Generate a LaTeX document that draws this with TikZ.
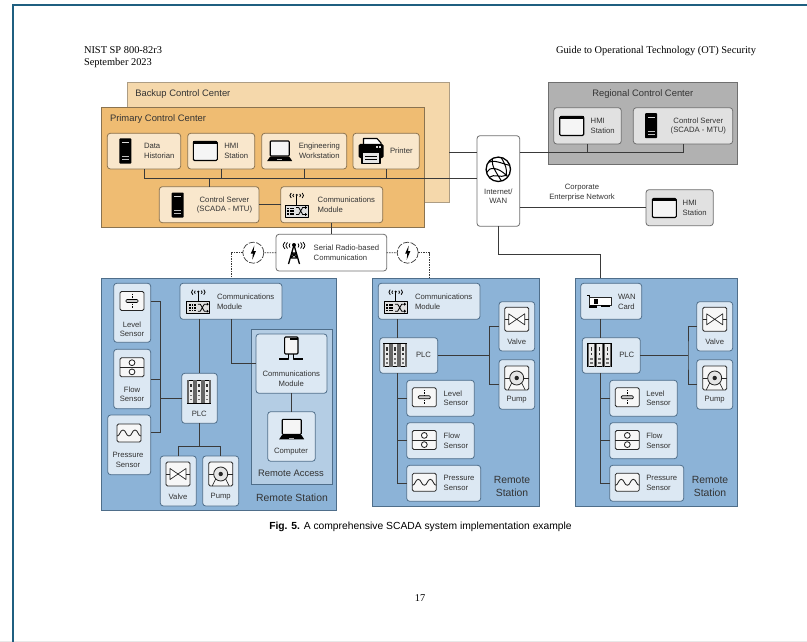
\documentclass[tikz,border=0pt]{standalone}
\usepackage{fontspec}
\setmainfont{Liberation Sans}
\newfontfamily\serifhead{Liberation Serif}
\definecolor{backupc}{HTML}{F5D8AB}
\definecolor{primaryc}{HTML}{EFBC72}
\definecolor{orboxc}{HTML}{F9E7CC}
\definecolor{orline}{HTML}{8A7350}
\definecolor{greyp}{HTML}{B1B1B1}
\definecolor{greyb}{HTML}{E1E1E1}
\definecolor{greyl}{HTML}{6F6F6F}
\definecolor{bluep}{HTML}{8CB3D7}
\definecolor{blueb}{HTML}{DCE8F3}
\definecolor{bluea}{HTML}{B4CDE4}
\definecolor{bluel}{HTML}{4F6E8A}
\definecolor{txt}{HTML}{333333}
\definecolor{linec}{HTML}{3A3A3A}
\definecolor{framec}{HTML}{1F5F80}
\tikzset{
  panel/.style={draw,rectangle,outer sep=0pt,inner sep=0pt,line width=.8pt},
  pbackup/.style={panel,fill=backupc,draw=orline!70},
  pprimary/.style={panel,fill=primaryc,draw=orline},
  pregional/.style={panel,fill=greyp,draw=greyl},
  pstation/.style={panel,fill=bluep,draw=bluel},
  paccess/.style={panel,fill=bluea,draw=bluel},
  dev/.style={draw,rectangle,rounded corners=3pt,outer sep=0pt,inner sep=0pt,line width=.8pt},
  orbox/.style={dev,fill=orboxc,draw=orline},
  grbox/.style={dev,fill=greyb,draw=greyl},
  blbox/.style={dev,fill=blueb,draw=bluel},
  whbox/.style={dev,fill=white,draw=greyl},
  lbl/.style={inner sep=0pt,outer sep=0pt,text=txt,font=\fontsize{7.7}{9.8}\selectfont},
  lleft/.style={lbl,anchor=west,align=left},
  lmid/.style={lbl,anchor=center,align=center},
  ttl/.style={inner sep=0pt,outer sep=0pt,text=txt,font=\fontsize{9.4}{12.5}\selectfont},
  ttlbig/.style={inner sep=0pt,outer sep=0pt,text=txt,align=center,font=\fontsize{10.4}{12.7}\selectfont},
  conn/.style={draw=linec,line width=1pt},
  radio/.style={draw=linec,line width=.7pt,dash pattern=on 1.5pt off 1pt},
  boltc/.style={circle,draw=linec,line width=.7pt,dash pattern=on 6pt off 1.5pt,fill=white,minimum size=21pt,inner sep=0pt,outer sep=0pt},
  ic/.style={draw=black,line width=1.1pt,line join=round},
  icb/.style={draw=black!85,line width=.85pt,line join=round},
  icthin/.style={draw=black,line width=.7pt},
  head/.style={inner sep=0pt,outer sep=0pt,text=black,font=\serifhead\fontsize{10.4}{12.6}\selectfont},
}
\newcommand\bx[6]{\node[#6,minimum width={(#4)-(#2)},minimum height={(#5)-(#3)}] (#1) at ({((#2)+(#4))/2},{((#3)+(#5))/2}) {};}
\newcommand\icServer[2]{\begin{scope}[shift={(#1,#2)}]
 \fill[black,rounded corners=.8pt] (-6,-12.5) rectangle (6,12.5);
 \fill[white!85!black] (-3.5,-9) rectangle (3.5,-8);
 \fill[white!75!black] (-3.5,5) rectangle (3.5,6.3);
 \fill[white!75!black] (-3.5,8) rectangle (3.5,9.3);
\end{scope}}
\newcommand\icWindow[2]{\begin{scope}[shift={(#1,#2)}]
 \draw[ic,fill=white!96!black,rounded corners=1.2pt] (-12,-9.5) rectangle (12,9.5);
 \fill[black] (-12,-9.5) rectangle (12,-7);
\end{scope}}
\newcommand\icLaptop[2]{\begin{scope}[shift={(#1,#2)}]
 \draw[ic,fill=white!96!black,rounded corners=.8pt] (-9.5,-10) rectangle (9.5,5);
 \fill[black] (-9.5,5.5) -- (9.5,5.5) -- (12.5,10) -- (-12.5,10) -- cycle;
 \fill[white!70!black] (-2.5,8.2) rectangle (2.5,9.2);
\end{scope}}
\newcommand\icPrinter[2]{\begin{scope}[shift={(#1,#2)}]
 \draw[ic,fill=white] (-7.5,-1) -- (-7.5,-12.5) -- (6,-12.5) -- (10,-8) -- (10,-1);
 \fill[black,rounded corners=1.5pt] (-12.5,-7) rectangle (12.5,7);
 \fill[white!85!black] (5,-4.5) rectangle (7,-3); \fill[white!85!black] (8.3,-4.5) rectangle (10,-3);
 \draw[ic,fill=white!90!black] (-9,1.5) rectangle (9,12.5);
 \draw[icthin] (-6,5) -- (6,5) (-6,8) -- (6,8);
\end{scope}}
\newcommand\waves{
 \draw[icthin,line width=.8pt] (-3,-11) .. controls (-4.2,-9.5) .. (-3,-8) (3,-11) .. controls (4.2,-9.5) .. (3,-8)
   (-5.5,-12) .. controls (-7.2,-9.5) .. (-5.5,-7) (5.5,-12) .. controls (7.2,-9.5) .. (5.5,-7);
 \fill[black] (0,-10) circle (1.2);
}
\newcommand\icComm[2]{\begin{scope}[shift={(#1,#2)}]
 \waves
 \draw[ic,line width=.9pt] (0,-9.5) -- (0,-.5);
 \draw[ic,line width=.9pt,fill=white!88!black] (-11.5,0) rectangle (11.5,12);
 \foreach \a in {-9.3,-6.8,-4.3}{\foreach \b in {2.5,5.2,8}{\fill[black] (\a,\b) rectangle +(1.6,1.6);}}
 \draw[icthin,line width=.8pt] (-.5,2.5) -- (2,2.5) -- (6,9.5) -- (9,9.5) (-.5,9.5) -- (2,9.5) -- (6,2.5) -- (9,2.5);
 \fill[black] (8.5,1) -- (10.5,2.5) -- (8.5,4) -- cycle (8.5,8) -- (10.5,9.5) -- (8.5,11) -- cycle;
\end{scope}}
\newcommand\icTower[2]{\begin{scope}[shift={(#1,#2)}]
 \draw[icthin,line width=.8pt] (-4,-9.5) .. controls (-5.2,-7.5) .. (-4,-5.5) (4,-9.5) .. controls (5.2,-7.5) .. (4,-5.5)
   (-6.5,-10.5) .. controls (-8.5,-7.5) .. (-6.5,-4.5) (6.5,-10.5) .. controls (8.5,-7.5) .. (6.5,-4.5)
   (-9,-11) .. controls (-11.5,-7.5) .. (-9,-4) (9,-11) .. controls (11.5,-7.5) .. (9,-4);
 \fill[black] (0,-8) circle (2);
 \draw[ic,line width=1.3pt] (0,-8) -- (-5.5,11) (0,-8) -- (5.5,11) (-2.8,0) -- (2.8,0) (-4,5) -- (4,5) (-2.8,0) -- (4,5) (2.8,0) -- (-4,5);
\end{scope}}
\newcommand\icGlobe[2]{\begin{scope}[shift={(#1,#2)}]
 \draw[ic,line width=1.3pt,fill=white] (0,0) circle (12.2);
 \draw[ic,line width=1pt] (-10,-7) .. controls (-5,-10) and (3,-6) .. (11,-4)
   (-11.5,3) .. controls (-9,-3) and (0,-2) .. (8,6)
   (-6,-10.5) .. controls (-7,-3) and (-2,3) .. (3,11.5)
   (3,-11.5) .. controls (7,-5) and (9,0) .. (8,6)
   (-9,8) .. controls (-4,4) and (2,9) .. (8,6);
 \fill[black] (8,6) circle (1.3);
\end{scope}}
\newcommand\icLevel[2]{\begin{scope}[shift={(#1,#2)}]
 \draw[icb,fill=white!97!black,rounded corners=1.5pt] (-12,-9.5) rectangle (12,9.5);
 \draw[icthin,dash pattern=on 1.5pt off 1pt] (0,-7.5) -- (0,7.5);
 \draw[icthin,fill=white!80!black,rounded corners=1pt] (-6,-1.5) rectangle (6,1.5);
\end{scope}}
\newcommand\icFlow[2]{\begin{scope}[shift={(#1,#2)}]
 \draw[icb,fill=white!97!black,rounded corners=1.5pt] (-12,-9.5) rectangle (12,9.5);
 \draw[icb] (-12,0) -- (12,0);
 \draw[icb,fill=white] (0,-4.6) circle (2.9) (0,4.6) circle (2.9);
\end{scope}}
\newcommand\icPress[2]{\begin{scope}[shift={(#1,#2)}]
 \draw[icb,fill=white!97!black,rounded corners=1.5pt] (-12,-9) rectangle (12,9);
 \draw[icb] (-12,3) .. controls (-9,3) and (-9,-3) .. (-6,-3) .. controls (-3,-3) and (-3,3) .. (0,3) .. controls (3,3) and (3,-3) .. (6,-3) .. controls (9,-3) and (9,3) .. (12,3);
\end{scope}}
\newcommand\icValve[2]{\begin{scope}[shift={(#1,#2)}]
 \draw[icb,fill=white!97!black,rounded corners=1.5pt] (-12,-12) rectangle (12,12);
 \draw[icb,line width=.7pt,fill=white] (-8,-5.5) -- (8,5.5) -- (8,-5.5) -- (-8,5.5) -- cycle;
 \draw[icb] (-12,0) -- (-8,0) (8,0) -- (12,0);
\end{scope}}
\newcommand\icPump[2]{\begin{scope}[shift={(#1,#2)}]
 \draw[icb,fill=white!97!black,rounded corners=1.5pt] (-12,-12) rectangle (12,12);
 \draw[icb,line width=.7pt] (-8.5,12) -- (-5,5) (8.5,12) -- (5,5);
 \draw[icb] (-12,0) -- (-7,0) (7,0) -- (12,0);
 \draw[icb,fill=white!90!black] (0,0) circle (7);
 \fill[black!85] (0,0) circle (2.2);
\end{scope}}
\newcommand\icPLC[2]{\begin{scope}[shift={(#1,#2)}]
 \foreach \m in {-8,0,8}{
  \draw[icthin,fill=white!92!black] (\m-3.8,-11.5) rectangle (\m+3.8,11.5);
  \fill[black!60] (\m-3.8,-11.5) rectangle (\m-2.4,11.5);
  \fill[black!60] (\m+2.4,-11.5) rectangle (\m+3.8,11.5);
  \fill[black!80] (\m-.7,-8) rectangle (\m+.7,-4.5);
  \fill[black!80] (\m-.7,-2) rectangle (\m+.7,0);
  \fill[black!55] (\m-1.4,3) rectangle (\m+1.4,4.2);
  \fill[black!55] (\m-1.4,7) rectangle (\m+1.4,8.2);
 }
\end{scope}}
\newcommand\icCard[2]{\begin{scope}[shift={(#1,#2)}]
 \draw[ic] (-12.5,-6.5) -- (-9.5,-6.5) -- (-9.5,6.5);
 \draw[icb,fill=white] (-9.5,-4) rectangle (12,3.5);
 \fill[black] (-5.5,-2.5) rectangle (-1.5,2);
 \fill[black] (-9.5,3.5) rectangle (-2,6);
 \fill[black] (2,3.5) rectangle (11,5.5);
\end{scope}}
\newcommand\icRouter[2]{\begin{scope}[shift={(#1,#2)}]
 \draw[ic,fill=white!96!black,rounded corners=1pt] (-6.7,-14) rectangle (6.7,3);
 \fill[black] (-1,-13) rectangle (6.7,-11);
 \draw[ic] (-2.5,3) -- (-2.5,8) -- (-12,8) (2.5,3) -- (2.5,8) -- (12,8);
\end{scope}}
\newcommand\icBolt[2]{\begin{scope}[shift={(#1,#2)}]
 \fill[black] (1,-7) -- (-2.6,1) -- (-.4,1) -- (-1,7) -- (2.6,-1.5) -- (.3,-1.5) -- cycle;
\end{scope}}
\begin{document}
\begin{tikzpicture}[x=1pt,y=-1pt]
\useasboundingbox (0,0) rectangle (807,642);
\fill[white] (0,0) rectangle (807,642);
\fill[white!91!black] (0,640.6) rectangle (807,642);
\draw[framec,line width=1.8pt] (807,5.2) -- (13,5.2) -- (13,642);
% panels
\bx{backup}{127.7}{82.7}{449}{202}{pbackup}
\bx{primary}{101.7}{107.7}{424}{227}{pprimary}
\bx{regional}{548.3}{82.7}{737.7}{164.3}{pregional}
\bx{rsa}{101.7}{278.3}{336.7}{510.7}{pstation}
\bx{rsb}{372.7}{278.3}{539.7}{506}{pstation}
\bx{rsc}{575.7}{278.3}{737.7}{506}{pstation}
\bx{access}{251}{329}{332.7}{484.3}{paccess}
% primary devices
\bx{dh}{107.3}{133.3}{180.7}{169}{orbox}
\bx{hmi}{187.7}{133.3}{254.7}{169}{orbox}
\bx{eng}{261.7}{133.3}{346.7}{169}{orbox}
\bx{prn}{353}{133.3}{419.3}{169}{orbox}
\bx{cs}{159.3}{186.7}{259}{222.7}{orbox}
\bx{cm}{280.7}{186.7}{382.7}{222.7}{orbox}
\bx{serial}{276}{234.3}{386.7}{271}{whbox}
\bx{inet}{477}{135.7}{519.7}{226.3}{whbox}
% regional and corporate
\bx{rhmi}{553.7}{107.7}{621.3}{144}{grbox}
\bx{rcs}{633.3}{107.7}{732.7}{144}{grbox}
\bx{chmi}{646}{189.7}{713.3}{225.7}{grbox}
% station A
\bx{acomm}{180}{283.3}{282}{319.3}{blbox}
\bx{alevel}{113.7}{283.3}{150.7}{342.3}{blbox}
\bx{aflow}{113.7}{349.3}{150.7}{408.7}{blbox}
\bx{apress}{107.7}{415}{150.7}{474.7}{blbox}
\bx{aplc}{181.7}{373.3}{217.3}{423.3}{blbox}
\bx{avalve}{160.3}{456}{196.3}{506}{blbox}
\bx{apump}{202.7}{456}{238.7}{506}{blbox}
\bx{arouter}{256}{334}{327}{393.3}{blbox}
\bx{acomp}{267.7}{411.7}{315.3}{461.3}{blbox}
% station B
\bx{bcomm}{378.3}{283.3}{480}{319.3}{blbox}
\bx{bplc}{379.7}{337.7}{437.7}{373.3}{blbox}
\bx{bvalve}{499}{301.7}{534.7}{351}{blbox}
\bx{bpump}{499}{359.7}{534.7}{409.3}{blbox}
\bx{blevel}{406.7}{380.3}{474.3}{416.3}{blbox}
\bx{bflow}{406.7}{422.7}{474.3}{458.7}{blbox}
\bx{bpress}{406.7}{465.3}{480.7}{501.3}{blbox}
% station C
\bx{cwan}{580.7}{283.3}{641.7}{319.3}{blbox}
\bx{cplc}{582.3}{337.7}{640.3}{373.3}{blbox}
\bx{cvalve}{696.7}{301.7}{732.7}{351}{blbox}
\bx{cpump}{696.7}{359.7}{732.7}{409.3}{blbox}
\bx{clevel}{609.7}{380.3}{677.3}{416.3}{blbox}
\bx{cflow}{609.7}{422.7}{677.3}{458.7}{blbox}
\bx{cpress}{609.7}{465.3}{683.7}{501.3}{blbox}
% radio bolts
\node[boltc] (bolta) at (253.3,252.7) {};
\node[boltc] (boltb) at (407.7,252.7) {};
% routing coordinates
\coordinate (busy) at (0,178.3);
\coordinate (buy) at (0,152.4);
\coordinate (wany) at (0,254.7);
\coordinate (atrunk) at (160,0);
\coordinate (atop) at (0,301.3);
\coordinate (abot) at (0,432.7);
\coordinate (aplcy) at (0,398.3);
\coordinate (avy) at (0,446.7);
\coordinate (arty) at (0,363.3);
\coordinate (atrx) at (199.3,0);
\coordinate (btrunk) at (397.3,0);
\coordinate (ctrunk) at (600,0);
\coordinate (bvx) at (489.7,0);
\coordinate (cvx) at (688,0);
% control centre connectors
\draw[conn] (dh.south) |- (inet.west |- busy);
\draw[conn] (hmi.south) -- (hmi.south |- busy);
\draw[conn] (eng.south) -- (eng.south |- busy);
\draw[conn] (prn.south) -- (prn.south |- busy);
\draw[conn] (cs.north) -- (cs.north |- busy);
\draw[conn] (cs.east) -- (cm.west);
\draw[conn] (cm.south) -- (cm.south |- serial.north);
\draw[conn] (backup.east |- buy) -- (inet.west |- buy);
\draw[conn] (inet.east |- buy) -| (rcs.south);
\draw[conn] (rhmi.south) -- (rhmi.south |- buy);
\draw[conn] (inet.east |- chmi.west) -- (chmi.west);
\draw[conn] (inet.south) |- (ctrunk |- wany) -- (ctrunk |- rsc.north);
% radio links
\draw[radio] (serial.west) -- (bolta.east);
\draw[radio] (serial.east) -- (boltb.west);
\draw[radio] (bolta.west) -| (acomm.north |- rsa.north);
\draw[radio] (boltb.east) -| (bcomm.north |- rsb.north);
% station A connectors
\draw[conn] (atrx |- acomm.south) -- (atrx |- aplc.north);
\draw[conn] (alevel.east |- atop) -| (atrunk |- abot) -- (apress.east |- abot);
\draw[conn] (aflow.east) -- (atrunk |- aflow.east);
\draw[conn] (atrunk |- aplcy) -- (aplc.west |- aplcy);
\draw[conn] (atrx |- aplc.south) -- (atrx |- avy);
\draw[conn] (avalve.north) |- (apump.north |- avy) -- (apump.north);
\draw[conn] (acomm.south) |- (arouter.west |- arty);
\draw[conn] (acomp.north |- arouter.south) -- (acomp.north);
% station B connectors
\draw[conn] (btrunk |- bcomm.south) -- (btrunk |- bplc.north);
\draw[conn] (btrunk |- bplc.south) |- (bpress.west);
\draw[conn] (btrunk |- blevel.west) -- (blevel.west);
\draw[conn] (btrunk |- bflow.west) -- (bflow.west);
\draw[conn] (bplc.east) -- (bvx |- bplc.east);
\draw[conn] (bvalve.west) -| (bvx |- bplc.east) |- (bpump.west);
% station C connectors
\draw[conn] (ctrunk |- cwan.south) -- (ctrunk |- cplc.north);
\draw[conn] (ctrunk |- cplc.south) |- (cpress.west);
\draw[conn] (ctrunk |- clevel.west) -- (clevel.west);
\draw[conn] (ctrunk |- cflow.west) -- (cflow.west);
\draw[conn] (cplc.east) -- (cvx |- cplc.east);
\draw[conn] (cvalve.west) -| (cvx |- cplc.east) |- (cpump.west);
% icons
\icServer{125.3}{151}\icWindow{205.3}{151}\icLaptop{279.7}{151}\icPrinter{371}{151}
\icServer{177.7}{205}\icComm{296.7}{205}\icTower{294}{253}\icBolt{253.3}{252.7}\icBolt{407.7}{252.7}
\icGlobe{498.3}{169.3}\icWindow{571.7}{126}\icServer{651}{125.7}\icWindow{664.3}{208}
\icComm{198.3}{301.7}\icLevel{132}{301}\icFlow{132}{367.3}\icPress{129}{433}\icPLC{199}{391.7}
\icValve{178}{474}\icPump{220.7}{474}\icRouter{291.3}{351}\icLaptop{291.7}{429.3}
\icComm{395.7}{301.7}\icPLC{395}{355.3}\icValve{516.7}{319.3}\icPump{516.7}{378}
\icLevel{424.3}{397.3}\icFlow{424.3}{440}\icPress{424.3}{482.3}
\icCard{599.3}{301.7}\icPLC{599.3}{355.3}\icValve{714.7}{319.3}\icPump{714.7}{378}
\icLevel{627.3}{397.3}\icFlow{627.3}{440}\icPress{627.3}{482.3}
% titles
\node[ttl,anchor=west] (tbackup) at (135.3,94) {Backup Control Center};
\node[ttl,anchor=west] (tprimary) at (110,119.3) {Primary Control Center};
\node[ttl] (tregional) at (642.8,94) {Regional Control Center};
\node[ttl] (taccess) at (291,473) {Remote Access};
\node[ttlbig] (tsa) at (292,498) {Remote Station};
\node[ttlbig] (tsb) at (512,486.3) {Remote\\Station};
\node[ttlbig] (tsc) at (710,486.3) {Remote\\Station};
% labels
\node[lleft] (l1) at (144,151) {Data\\Historian};
\node[lleft] (l2) at (224.3,151) {HMI\\Station};
\node[lmid] (l3) at (319.3,151) {Engineering\\Workstation};
\node[lleft] (l4) at (390,151) {Printer};
\node[lmid] (l5) at (224.5,205) {Control Server\\(SCADA - MTU)};
\node[lleft] (l6) at (317.7,205) {Communications\\Module};
\node[lleft] (l7) at (313.7,253) {Serial Radio-based\\Communication};
\node[lleft] (l8) at (590.7,126) {HMI\\Station};
\node[lmid] (l9) at (698.3,126) {Control Server\\(SCADA - MTU)};
\node[lmid] (l10) at (498.3,196.3) {Internet/\\WAN};
\node[lmid] (l11) at (582,193) {Corporate\\Enterprise Network};
\node[lleft] (l12) at (682.7,207.8) {HMI\\Station};
\node[lleft] (l13) at (217,301.7) {Communications\\Module};
\node[lmid] (l14) at (132,329.3) {Level\\Sensor};
\node[lmid] (l15) at (132,394.3) {Flow\\Sensor};
\node[lmid] (l16) at (128,460) {Pressure\\Sensor};
\node[lmid] (l17) at (199.3,414) {PLC};
\node[lmid] (l18) at (178,497) {Valve};
\node[lmid] (l19) at (220.7,497) {Pump};
\node[lmid] (l20) at (291.3,378.7) {Communications\\Module};
\node[lmid] (l21) at (291,452) {Computer};
\node[lleft] (l22) at (415,301.7) {Communications\\Module};
\node[lleft] (l23) at (416,355.3) {PLC};
\node[lmid] (l24) at (516.7,341.7) {Valve};
\node[lmid] (l25) at (516.7,399.7) {Pump};
\node[lleft] (l26) at (443.7,398.3) {Level\\Sensor};
\node[lleft] (l27) at (443.7,440.7) {Flow\\Sensor};
\node[lleft] (l28) at (443.7,483) {Pressure\\Sensor};
\node[lleft] (l29) at (618,301.7) {WAN\\Card};
\node[lleft] (l30) at (619.3,355.3) {PLC};
\node[lmid] (l31) at (714.7,341.7) {Valve};
\node[lmid] (l32) at (714.7,399.7) {Pump};
\node[lleft] (l33) at (646.3,398.3) {Level\\Sensor};
\node[lleft] (l34) at (646.3,440.7) {Flow\\Sensor};
\node[lleft] (l35) at (646.3,483) {Pressure\\Sensor};
% page text
\node[head,anchor=west,align=left] (h1) at (84,57) {NIST SP 800-82r3\\September 2023};
\node[head,anchor=west] (h2) at (556,51) {Guide to Operational Technology (OT) Security};
\node[inner sep=0pt,text=black,font=\fontsize{10.3}{12}\selectfont] (cap) at (420.5,526.7) {\textbf{Fig. 5.} A comprehensive SCADA system implementation example};
\node[head] (pg) at (420,598) {17};
\end{tikzpicture}
\end{document}
